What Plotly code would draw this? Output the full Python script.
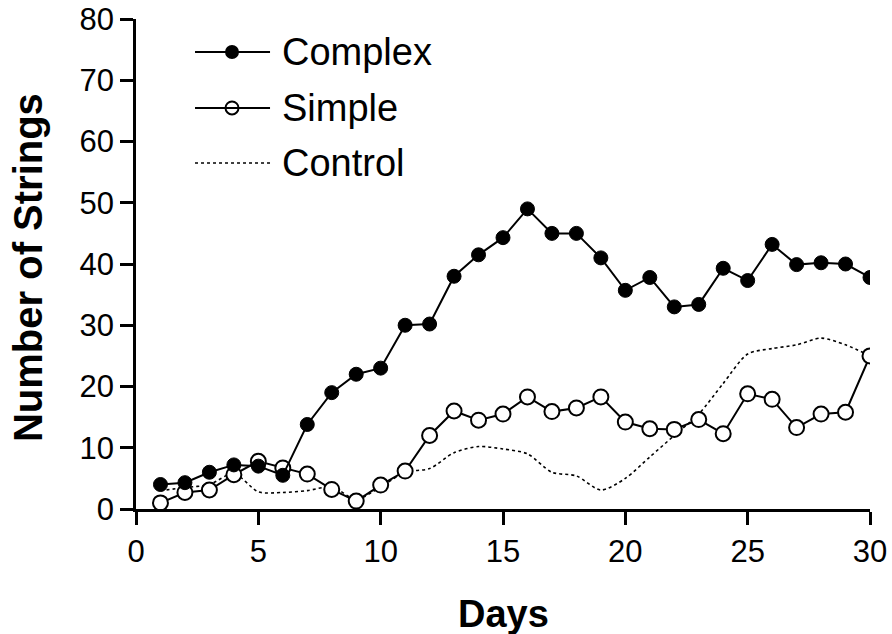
import plotly.graph_objects as go

days = list(range(1, 31))
complex_vals = [4.0, 4.3, 6.0, 7.2, 7.0, 5.5, 13.8, 19.0, 22.0, 23.0,
                30.0, 30.2, 38.0, 41.5, 44.3, 49.0, 45.0, 45.0, 41.0, 35.7,
                37.8, 33.0, 33.4, 39.3, 37.3, 43.2, 39.9, 40.2, 40.0, 37.8]
simple_vals = [1.0, 2.7, 3.1, 5.6, 7.8, 6.7, 5.7, 3.2, 1.3, 3.9,
               6.2, 12.0, 16.0, 14.5, 15.5, 18.3, 15.9, 16.5, 18.3, 14.2,
               13.1, 13.0, 14.6, 12.3, 18.8, 17.9, 13.3, 15.5, 15.8, 25.0]
control_vals = [3.0, 3.5, 4.0, 5.8, 2.8, 2.7, 3.0, 3.6, 1.6, 3.6,
                6.0, 6.6, 9.2, 10.2, 9.8, 9.0, 6.0, 5.4, 3.1, 5.0,
                8.5, 12.0, 15.5, 20.5, 25.3, 26.2, 26.8, 27.9, 26.8, 25.0]
series_names = ["Complex", "Simple", "Control"]
x_ticks = [0, 5, 10, 15, 20, 25, 30]
y_ticks = [0, 10, 20, 30, 40, 50, 60, 70, 80]

FONT = "Liberation Sans, Arial, sans-serif"

fig = go.Figure()
fig.add_trace(go.Scatter(x=days, y=control_vals, mode="lines", name=series_names[2],
                         line=dict(color="black", width=1.6, dash="dot", shape="spline", smoothing=0.8)))
fig.add_trace(go.Scatter(x=days, y=simple_vals, mode="lines+markers", name=series_names[1],
                         line=dict(color="black", width=2),
                         marker=dict(symbol="circle", size=15, color="white",
                                     line=dict(color="black", width=2))))
fig.add_trace(go.Scatter(x=days, y=complex_vals, mode="lines+markers", name=series_names[0],
                         line=dict(color="black", width=2),
                         marker=dict(symbol="circle", size=14, color="black",
                                     line=dict(color="black", width=1))))

# Manual legend (layout decoration)
leg_rows = [(0.9327, "filled"), (0.8184, "open"), (0.7061, "dot")]
shapes = []
annotations = []
x0, x1, xm, xt = 0.0804, 0.1826, 0.1308, 0.1962
for (yy, kind), name in zip(leg_rows, series_names):
    shapes.append(dict(type="line", xref="paper", yref="paper", x0=x0, x1=x1, y0=yy, y1=yy,
                       line=dict(color="black", width=2 if kind != "dot" else 1.6,
                                 dash="solid" if kind != "dot" else "dot")))
    if kind != "dot":
        fig.add_trace(go.Scatter(x=[xm], y=[yy], xaxis="x2", yaxis="y2", mode="markers",
                                 showlegend=False, hoverinfo="skip",
                                 marker=dict(size=12 if kind == "filled" else 13,
                                             color="black" if kind == "filled" else "white",
                                             line=dict(color="black", width=2))))
    annotations.append(dict(xref="paper", yref="paper", x=xt, y=yy, xanchor="left", yanchor="middle",
                            text=name, showarrow=False, font=dict(family=FONT, size=38, color="black")))

# Axis titles
annotations.append(dict(xref="paper", yref="paper", x=0.5, y=-0.2143, xanchor="center", yanchor="middle",
                        text="<b>Days</b>", showarrow=False, font=dict(family=FONT, size=38, color="black")))
annotations.append(dict(xref="paper", yref="paper", x=-0.1471, y=0.4918, xanchor="center", yanchor="middle",
                        textangle=-90, text="<b>Number of Strings</b>", showarrow=False,
                        font=dict(family=FONT, size=40, color="black")))

fig.update_layout(
    width=892, height=634,
    margin=dict(l=136, r=22, t=19, b=125),
    paper_bgcolor="white", plot_bgcolor="white",
    showlegend=False,
    font=dict(family=FONT, color="black"),
    shapes=shapes, annotations=annotations,
    xaxis=dict(range=[0, 30], tickvals=x_ticks, ticks="outside", ticklen=13, tickwidth=2.5,
               tickcolor="black", showline=True, linecolor="black", linewidth=2.5,
               showgrid=False, zeroline=False, tickfont=dict(size=31, family=FONT),
               automargin=False, ticklabeloverflow="allow"),
    yaxis=dict(range=[0, 80], tickvals=y_ticks, ticks="outside", ticklen=13, tickwidth=2.5,
               tickcolor="black", showline=True, linecolor="black", linewidth=2.5,
               showgrid=False, zeroline=False, tickfont=dict(size=31, family=FONT),
               automargin=False, ticklabeloverflow="allow"),
    xaxis2=dict(range=[0, 1], overlaying="x", visible=False, domain=[0, 1]),
    yaxis2=dict(range=[0, 1], overlaying="y", visible=False),
)
fig.update_traces(selector=dict(xaxis="x2"), cliponaxis=False)

fig.write_html("out.html", config={"displayModeBar": False},
               post_script="document.body.style.margin='0';document.body.style.overflow='hidden';")
